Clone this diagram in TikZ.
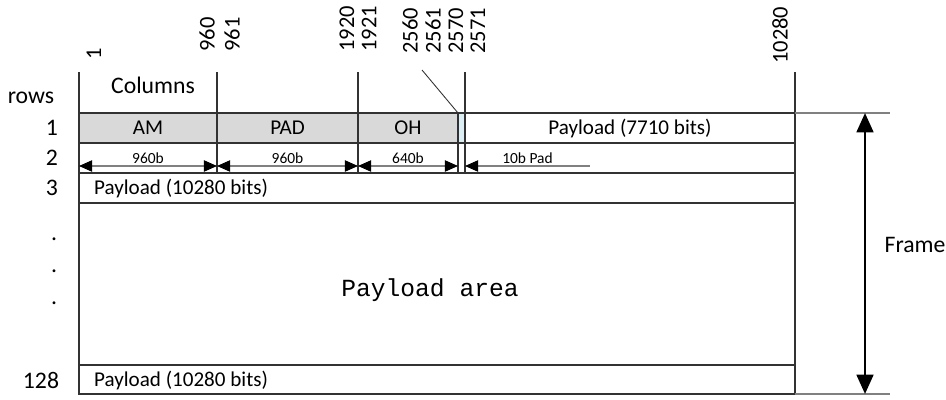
\documentclass[tikz,border=0pt]{standalone}
\usepackage{fontspec}
\setmainfont{Carlito}
\newfontfamily\areafont{Liberation Mono}
\usetikzlibrary{arrows.meta}
\definecolor{Frameline}{RGB}{50,50,50}
\definecolor{Headgray}{RGB}{217,217,217}
\definecolor{Padblue}{RGB}{218,238,243}
\definecolor{Extgray}{RGB}{128,128,128}

\begin{document}
\begin{tikzpicture}[x=0.02cm,y=-0.02cm,
    grid/.style={draw=Frameline,line width=0.6pt},
    extline/.style={draw=Extgray,line width=0.6pt},
    rowlabel/.style={font=\fontsize{13.5}{15}\selectfont},
    collabel/.style={rotate=90,anchor=west,inner sep=0pt,font=\fontsize{12.8}{14}\selectfont},
    celltext/.style={font=\fontsize{12}{14}\selectfont},
    dimtext/.style={font=\fontsize{8.8}{10}\selectfont,inner sep=1pt},
    dim/.style={draw=Extgray,line width=0.6pt,{Triangle[length=7.5pt,width=6.5pt,black]}-{Triangle[length=7.5pt,width=6.5pt,black]}},
    padarrow/.style={draw=Extgray,line width=0.6pt,{Triangle[length=7.5pt,width=6.5pt,black]}-},
    framearrow/.style={line width=1.5pt,{Triangle[length=11pt,width=9.5pt]}-{Triangle[length=11pt,width=9.5pt]}}
]
\useasboundingbox (0,0) rectangle (946,399);

% Header cells of row 1
\fill[Headgray] (79,113) rectangle (458,143);
\fill[Padblue] (458,113) rectangle (465,143);

% Frame and rows
\draw[grid] (79,113) rectangle (795,394);
\draw[grid] (79,143) -- (795,143);
\draw[grid] (79,173) -- (795,173);
\draw[grid] (79,203) -- (795,203);
\draw[grid] (79,365) -- (795,365);

% Column boundaries
\draw[grid] (79,72) -- (79,113);
\draw[grid] (217,72) -- (217,173);
\draw[grid] (358,72) -- (358,173);
\draw[grid] (458,113) -- (458,173);
\draw[grid] (465,72) -- (465,173);
\draw[grid] (795,72) -- (795,113);
\coordinate (diag-top) at (422,70);
\coordinate (oh-end) at (458,113);
\draw[grid,line width=0.5pt] (diag-top) -- (oh-end);

% Frame extent lines
\draw[extline] (795,113) -- (890,113);
\draw[extline] (795,394) -- (890,394);

% Column numbers
\node[collabel] (col-1) at (94,60) {1};
\node[collabel] (col-960) at (207,52) {960};
\node[collabel] (col-961) at (232,52) {961};
\node[collabel] (col-1920) at (347,52) {1920};
\node[collabel] (col-1921) at (369,52) {1921};
\node[collabel] (col-2560) at (410,54) {2560};
\node[collabel] (col-2561) at (433,54) {2561};
\node[collabel] (col-2570) at (456,54) {2570};
\node[collabel] (col-2571) at (478,54) {2571};
\node[collabel] (col-10280) at (780,64) {10280};
\node[rowlabel] (columns) at (153,85) {Columns};

% Row numbers
\node[rowlabel] (rows) at (31,98) {rows};
\node[rowlabel] (row-1) at (52,128) {1};
\node[rowlabel] (row-2) at (52,158) {2};
\node[rowlabel] (row-3) at (52,188) {3};
\node[rowlabel,anchor=base] (dot-1) at (54,240) {.};
\node[rowlabel,anchor=base] (dot-2) at (54,272) {.};
\node[rowlabel,anchor=base] (dot-3) at (54,304) {.};
\node[rowlabel] (row-128) at (41,380) {128};

% Row 1 fields
\node[celltext] (am) at (148,128) {AM};
\node[celltext] (pad) at (287.5,128) {PAD};
\node[celltext] (oh) at (408,128) {OH};
\node[celltext] (payload-1) at (630,128) {Payload (7710 bits)};

% Row 2 field lengths
\coordinate (len-1) at (79,166);
\coordinate (len-960) at (217,166);
\coordinate (len-1920) at (358,166);
\coordinate (len-2560) at (458,166);
\coordinate (len-2571) at (465,166);
\coordinate (len-end) at (590,166);
\draw[dim] (len-1) -- node[dimtext,above] (am-len) {960b} (len-960);
\draw[dim] (len-960) -- node[dimtext,above] (pad-len) {960b} (len-1920);
\draw[dim] (len-1920) -- node[dimtext,above] (oh-len) {640b} (len-2560);
\draw[padarrow] (len-2571) -- node[dimtext,above,pos=0.5] (pad-10) {10b Pad} (len-end);

% Payload rows
\node[celltext,anchor=west] (payload-3) at (88,188) {Payload (10280 bits)};
\node[font=\areafont\fontsize{14}{16}\selectfont] (payload-area) at (430,290) {Payload area};
\node[celltext,anchor=west] (payload-128) at (88,380) {Payload (10280 bits)};

% Frame arrow
\coordinate (frame-top) at (865,113);
\coordinate (frame-bot) at (865,394);
\draw[framearrow] (frame-top) -- (frame-bot);
\node[rowlabel] (frame) at (915,245) {Frame};

\end{tikzpicture}
\end{document}
